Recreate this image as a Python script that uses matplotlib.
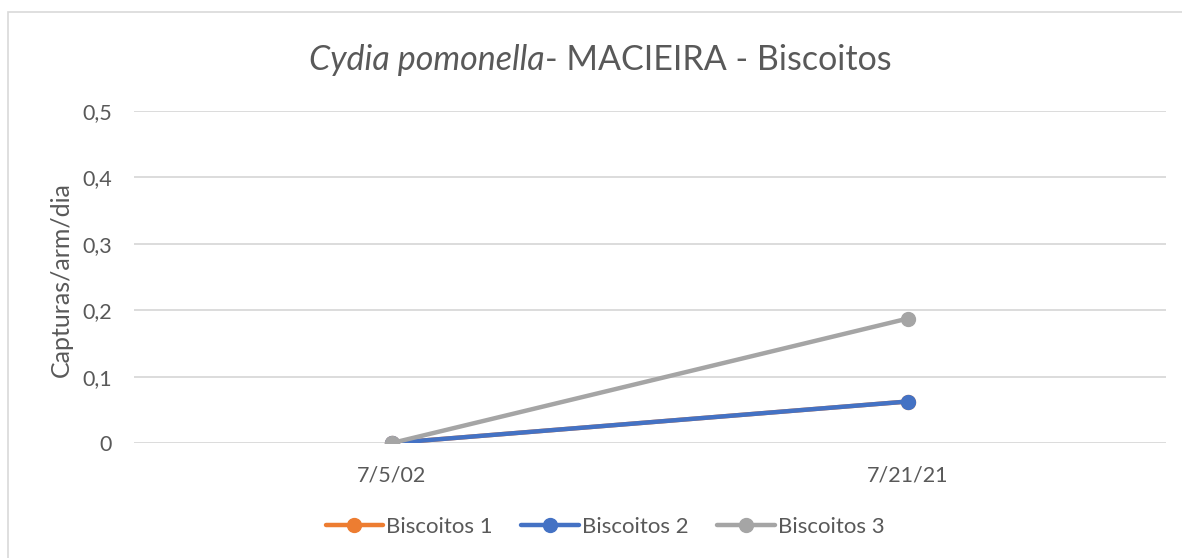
import matplotlib.pyplot as plt
from matplotlib.patches import Rectangle

# Datas e capturas
datas = ['7/5/02', '7/21/21']
biscoitos_1 = [0, 0.0625]
biscoitos_2 = [0, 0.0625]
biscoitos_3 = [0, 0.1875]
series = ['Biscoitos 1', 'Biscoitos 2', 'Biscoitos 3']
cores = ['#ED7D31', '#4472C4', '#A5A5A5']
yticks = [0, 0.1, 0.2, 0.3, 0.4, 0.5]

plt.rcParams['font.family'] = ['Lato', 'DejaVu Sans']

fig = plt.figure(figsize=(11.82, 5.58), dpi=100)
W, H = 1182, 558

# moldura do gráfico
fig.patches.append(Rectangle((8 / W, -0.1), 1.2, 1 - 12 / H + 0.1, transform=fig.transFigure,
                             facecolor='white', edgecolor='#D9D9D9', linewidth=1.2, zorder=-5))

ax = fig.add_axes([134 / W, 115 / H, (1166 - 134) / W, (443 - 111) / H])
ax.set_facecolor('none')

x = [0.5, 1.5]
for nome, vals, cor in zip(series, [biscoitos_1, biscoitos_2, biscoitos_3], cores):
    ax.plot(x, vals, color=cor, linewidth=3.2, marker='o', markersize=10,
            solid_capstyle='round', label=nome, zorder=3)

ax.set_xlim(0, 2)
ax.set_ylim(0, 0.5)
ax.set_xticks(x)
ax.set_xticklabels(datas)
ax.set_yticks(yticks)
ax.set_yticklabels(['0', '0,1', '0,2', '0,3', '0,4', '0,5'])
ax.tick_params(length=0, labelsize=15.5, colors='#595959')
ax.tick_params(axis='y', pad=16)
ax.tick_params(axis='x', pad=16)
ax.grid(axis='y', color='#D9D9D9', linewidth=1.3)
for s in ax.spines.values():
    s.set_visible(False)

# rótulo do eixo y
fig.text(61 / W, 1 - 280 / H, 'Capturas/arm/dia', fontsize=18, color='#595959',
         rotation=90, ha='center', va='center')

# título: parte em itálico + parte normal
fig.text(545 / W, 1 - 60 / H, 'Cydia pomonella', fontsize=24.5, style='italic',
         color='#595959', ha='right', va='center')
fig.text(545 / W, 1 - 60 / H, '- MACIEIRA - Biscoitos', fontsize=24.5,
         color='#595959', ha='left', va='center')

ax.legend(loc='center', bbox_to_anchor=((605 - 134) / 1032, (443 - 527) / 332), ncol=3,
          frameon=False, fontsize=16, labelcolor='#595959', handlelength=2.6,
          columnspacing=1.3, handletextpad=0.12, borderaxespad=0)

fig.savefig('out.png', dpi=100)
